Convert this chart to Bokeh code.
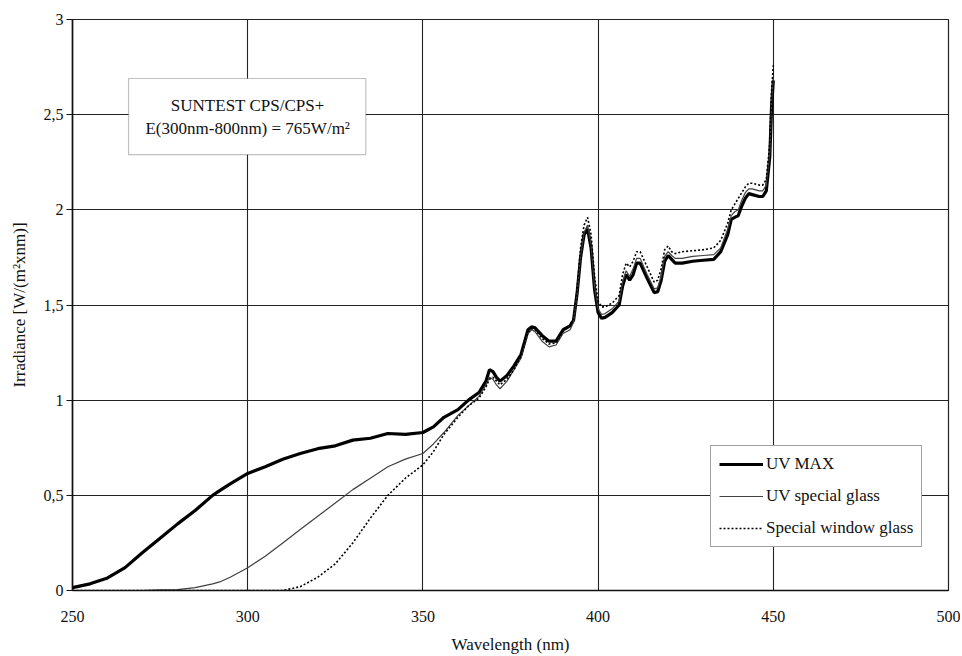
from bokeh.plotting import figure
from bokeh.models import Range1d, FixedTicker, BoxAnnotation, Label, CustomJSTickFormatter
from bokeh.embed import file_html
from bokeh.resources import INLINE

# ---- data ----
wavelength = [250, 255, 260, 265, 270, 275, 280, 285, 290, 292, 295, 300, 305, 310, 315, 320,
              325, 330, 335, 340, 345, 350, 353, 356, 360, 363, 366, 368, 369, 370, 371, 372,
              374, 376, 378, 380, 381, 382, 384, 386, 388, 390, 392, 393, 394, 395, 396, 397,
              398, 399, 400, 401, 402, 404, 406, 407, 408, 409, 410, 411, 412, 414, 416, 417,
              418, 419, 420, 421, 422, 424, 427, 430, 433, 435, 437, 438, 439, 440, 441, 442,
              443, 444, 446, 447, 448, 449, 449.5, 450]

uv_max = [0.015, 0.035, 0.066, 0.12, 0.20, 0.275, 0.35, 0.42, 0.50, 0.525, 0.56, 0.615, 0.65, 0.69, 0.72, 0.745,
          0.76, 0.79, 0.80, 0.825, 0.82, 0.83, 0.86, 0.91, 0.95, 1.0, 1.04, 1.10, 1.16, 1.15, 1.12, 1.10,
          1.13, 1.18, 1.24, 1.37, 1.385, 1.38, 1.34, 1.31, 1.31, 1.37, 1.39, 1.42, 1.56, 1.75, 1.87, 1.90,
          1.80, 1.58, 1.46, 1.43, 1.435, 1.46, 1.50, 1.60, 1.66, 1.63, 1.66, 1.72, 1.72, 1.64, 1.565, 1.57,
          1.63, 1.73, 1.76, 1.74, 1.72, 1.72, 1.73, 1.735, 1.74, 1.78, 1.87, 1.95, 1.96, 1.97, 2.02, 2.06,
          2.085, 2.08, 2.07, 2.07, 2.10, 2.28, 2.54, 2.68]

uv_special_glass = [0.0, 0.0, 0.0, 0.0, 0.0, 0.003, 0.005, 0.015, 0.035, 0.045, 0.07, 0.12, 0.18, 0.25, 0.32, 0.39,
                    0.46, 0.53, 0.59, 0.65, 0.69, 0.72, 0.77, 0.83, 0.92, 0.97, 1.02, 1.08, 1.12, 1.11, 1.08, 1.06,
                    1.10, 1.16, 1.22, 1.35, 1.37, 1.36, 1.31, 1.28, 1.29, 1.35, 1.37, 1.41, 1.56, 1.76, 1.88, 1.92,
                    1.82, 1.60, 1.48, 1.45, 1.455, 1.48, 1.52, 1.62, 1.68, 1.65, 1.69, 1.745, 1.745, 1.66, 1.585, 1.59,
                    1.65, 1.755, 1.78, 1.76, 1.745, 1.745, 1.755, 1.76, 1.765, 1.80, 1.90, 1.97, 1.99, 2.0, 2.05, 2.09,
                    2.11, 2.11, 2.10, 2.10, 2.13, 2.30, 2.56, 2.70]

special_window_glass = [0.0, 0.0, 0.0, 0.0, 0.0, 0.0, 0.0, 0.0, 0.0, 0.0, 0.0, 0.0, 0.0, 0.0, 0.02, 0.07,
                        0.14, 0.25, 0.38, 0.50, 0.59, 0.66, 0.73, 0.82, 0.91, 0.97, 1.01, 1.07, 1.11, 1.12, 1.10, 1.08,
                        1.11, 1.16, 1.23, 1.355, 1.375, 1.37, 1.325, 1.295, 1.30, 1.36, 1.395, 1.43, 1.58, 1.80, 1.92, 1.96,
                        1.87, 1.65, 1.52, 1.49, 1.49, 1.51, 1.55, 1.66, 1.72, 1.70, 1.73, 1.78, 1.78, 1.70, 1.62, 1.63,
                        1.69, 1.79, 1.81, 1.78, 1.77, 1.78, 1.785, 1.79, 1.80, 1.84, 1.93, 2.00, 2.03, 2.06, 2.09, 2.12,
                        2.14, 2.14, 2.13, 2.13, 2.16, 2.35, 2.62, 2.76]

x_ticks = [250, 300, 350, 400, 450, 500]
y_ticks = [0, 0.5, 1, 1.5, 2, 2.5, 3]

FONT = "Liberation Serif"
TXT = "#111111"

p = figure(width=960, height=656, x_range=Range1d(250, 500), y_range=Range1d(0, 3),
           output_backend="svg", toolbar_location=None,
           min_border_left=72, min_border_top=19, min_border_right=12, min_border_bottom=65)
p.background_fill_color = "white"
p.border_fill_color = "white"
p.outline_line_color = "#222222"
p.outline_line_width = 1.2

# grid
p.xgrid.ticker = FixedTicker(ticks=x_ticks)
p.ygrid.ticker = FixedTicker(ticks=y_ticks)
for g in (p.xgrid, p.ygrid):
    g.grid_line_color = "#222222"
    g.grid_line_width = 1.1

# axes
p.xaxis.ticker = FixedTicker(ticks=x_ticks, minor_ticks=[])
p.yaxis.ticker = FixedTicker(ticks=y_ticks, minor_ticks=[])
p.yaxis.formatter = CustomJSTickFormatter(code="return tick.toString().replace('.', ',');")
p.xaxis.axis_label = "Wavelength (nm)"
p.yaxis.axis_label = "Irradiance [W/(m²xnm)]"
for ax in (p.xaxis, p.yaxis):
    ax.axis_line_color = "#111111"
    ax.axis_line_width = 1.6
    ax.major_tick_line_color = "#111111"
    ax.minor_tick_line_color = None
    ax.major_label_text_font = FONT
    ax.major_label_text_font_size = "16px"
    ax.major_label_text_color = TXT
    ax.axis_label_text_font = FONT
    ax.axis_label_text_font_size = "17px"
    ax.axis_label_text_font_style = "normal"
    ax.axis_label_text_color = TXT
p.xaxis.major_tick_out = 0
p.xaxis.major_tick_in = 0
p.xaxis.major_label_standoff = 20
p.xaxis.axis_label_standoff = 10
p.yaxis.major_tick_out = 6
p.yaxis.major_tick_in = 0
p.yaxis.major_label_standoff = 3
p.yaxis.axis_label_standoff = 12

# curves
p.line(wavelength, uv_max, line_color="black", line_width=3.2, legend_label="UV MAX")
p.line(wavelength, uv_special_glass, line_color="#404040", line_width=1.2, legend_label="UV special glass")
p.line(wavelength, special_window_glass, line_color="black", line_width=1.6, line_dash="2 2",
       legend_label="Special window glass")

# annotation box
box = BoxAnnotation(left=266, right=333.7, bottom=2.29, top=2.69,
                    fill_color="white", fill_alpha=1.0, line_color="#333333", line_width=1.2)
p.add_layout(box)
for txt, yy in (("SUNTEST CPS/CPS+", 2.548), ("E(300nm-800nm) = 765W/m²", 2.428)):
    p.add_layout(Label(x=300, y=yy, text=txt, text_align="center", text_baseline="middle",
                       text_font=FONT, text_font_size="17px", text_color=TXT))

# legend
lg = p.legend[0]
lg.location = (638, 43)
lg.label_text_font = FONT
lg.label_text_font_size = "17px"
lg.label_text_color = TXT
lg.glyph_width = 44
lg.glyph_height = 20
lg.label_height = 20
lg.label_standoff = 3
lg.spacing = 12
lg.padding = 8
lg.margin = 0
lg.border_line_color = "#444444"
lg.border_line_width = 1.2
lg.background_fill_alpha = 1.0
lg.background_fill_color = "white"

open("out.html", "w").write(file_html(p, INLINE))
